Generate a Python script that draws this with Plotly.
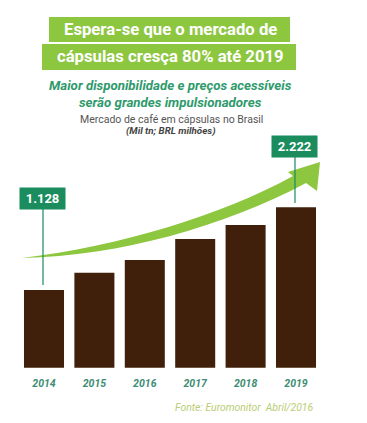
import plotly.graph_objects as go

W, H = 367, 423

years = ["2014", "2015", "2016", "2017", "2018", "2019"]
values = [1128, 1357, 1525, 1803, 1988, 2222]
label_years = ["2014", "2019"]
label_texts = ["1.128", "2.222"]

title_lines = ["Espera-se que o mercado de", "cápsulas cresça 80% até 2019"]
subtitle = "Maior disponibilidade e preços acessíveis<br>serão grandes impulsionadores"
desc = "Mercado de café em cápsulas no Brasil"
units = "(Mil tn; BRL milhões)"
source = "Fonte: Euromonitor  Abril/2016"

GREEN = "#8dc63f"
DARK_GREEN = "#1a8c5d"
BROWN = "#40200a"
TEAL = "#2e9a6c"
YEAR_C = "#3d8c73"

def px(x):
    return x / W

def py(y):
    return 1 - y / H

def pt(x, y):
    return f"{px(x):.5f},{py(y):.5f}"

fig = go.Figure()
fig.add_trace(go.Bar(x=years, y=values, marker=dict(color=BROWN, line=dict(width=0)),
                     hoverinfo="x+y"))

shapes = []
annotations = []

# Title boxes
shapes.append(dict(type="rect", xref="paper", yref="paper", x0=px(49), x1=px(290),
                   y0=py(42), y1=py(17), fillcolor=GREEN, line=dict(width=0), layer="below"))
shapes.append(dict(type="rect", xref="paper", yref="paper", x0=px(42), x1=px(296),
                   y0=py(70), y1=py(44), fillcolor=GREEN, line=dict(width=0), layer="below"))
for txt, yc in zip(title_lines, [29.5, 57]):
    annotations.append(dict(text=f"<b>{txt}</b>", xref="paper", yref="paper", x=px(170), y=py(yc),
                            showarrow=False, xanchor="center", yanchor="middle",
                            font=dict(family="Roboto", size=16.7, color="white")))

annotations.append(dict(text=f"<b><i>{subtitle}</i></b>", xref="paper", yref="paper",
                        x=px(170), y=py(93.5), showarrow=False, xanchor="center", yanchor="middle",
                        align="center", font=dict(family="Roboto", size=13.3, color=TEAL)))
annotations.append(dict(text=desc, xref="paper", yref="paper", x=px(171), y=py(120),
                        showarrow=False, xanchor="center", yanchor="middle",
                        font=dict(family="Roboto", size=10.5, color="#555555")))
annotations.append(dict(text=f"<b><i>{units}</i></b>", xref="paper", yref="paper", x=px(171), y=py(131),
                        showarrow=False, xanchor="center", yanchor="middle",
                        font=dict(family="Roboto", size=9.8, color="#444444")))

# Arrow
path = ("M " + pt(22, 258) + " C " + pt(120, 246) + " " + pt(220, 216) + " " + pt(293, 176)
        + " L " + pt(288, 172) + " L " + pt(320, 162) + " L " + pt(317, 191)
        + " L " + pt(306, 183) + " C " + pt(225, 226) + " " + pt(120, 256) + " " + pt(22, 258) + " Z")
shapes.append(dict(type="path", xref="paper", yref="paper", path=path, fillcolor=GREEN,
                   line=dict(width=0), layer="above"))

# Value labels with connector lines
label_pos = {"2014": (188, 209, 285), "2019": (137, 157, 203)}
for yr, txt in zip(label_years, label_texts):
    top, bot, end = label_pos[yr]
    idx = years.index(yr)
    shapes.append(dict(type="line", xref="x", yref="paper", x0=idx - 0.02, x1=idx - 0.02,
                       y0=py(bot), y1=py(end), line=dict(color=DARK_GREEN, width=1.2), layer="above"))
    annotations.append(dict(text=f"<b>{txt}</b>", xref="x", yref="paper", x=idx - 0.02,
                            y=py((top + bot) / 2), showarrow=False, xanchor="center", yanchor="middle",
                            bgcolor=DARK_GREEN, width=45, height=21, borderpad=0,
                            font=dict(family="Roboto", size=13, color="white")))

annotations.append(dict(text=f"<i>{source}</i>", xref="paper", yref="paper", x=px(315), y=py(407),
                        showarrow=False, xanchor="right", yanchor="middle",
                        font=dict(family="Roboto", size=10.4, color="#b9cd74")))

x0c = -44 / 50.4
fig.update_layout(
    width=W, height=H,
    margin=dict(l=0, r=0, t=0, b=0, autoexpand=False),
    paper_bgcolor="white", plot_bgcolor="rgba(0,0,0,0)",
    showlegend=False, bargap=0.206,
    shapes=shapes, annotations=annotations,
    xaxis=dict(range=[x0c, x0c + W / 50.4], showgrid=False, zeroline=False, showline=False,
               ticks="", automargin=False, ticklabelstandoff=8,
               tickfont=dict(family="Roboto", size=10.5, color=YEAR_C),
               tickvals=years, ticktext=[f"<b><i>{y}</i></b>" for y in years],
               fixedrange=True),
    yaxis=dict(domain=[1 - 367.7 / H, 1], range=[100, 100 + 367.7 / 0.07559],
               showgrid=False, zeroline=False, showline=False, showticklabels=False,
               automargin=False, fixedrange=True),
)

fig.write_html("out.html", config={"displayModeBar": False},
               post_script="document.body.style.margin='0';document.body.style.padding='0';")
